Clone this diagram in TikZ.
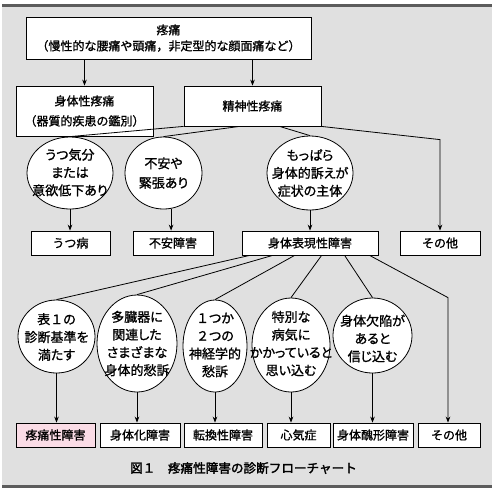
\documentclass[tikz,border=0pt]{standalone}
\usepackage{fontspec}
\newfontfamily\cjk[FakeBold=1.1]{Noto Sans CJK JP}
\newfontfamily\cjkp[FakeBold=1.1,RawFeature={+palt}]{Noto Sans CJK JP}
\newfontfamily\cjkcap[FakeBold=2.2]{Noto Sans CJK JP}
\newcommand{\fwdig}[1]{{\cjk #1}}
\usetikzlibrary{arrows.meta,shapes.geometric,shadows}
\definecolor{bg}{HTML}{E0E0E0}
\definecolor{rule}{HTML}{5C5C5C}
\definecolor{pinkf}{HTML}{FADCE6}
\begin{document}
\begin{tikzpicture}[x=1pt,y=-1pt,
  txt/.style={font=\cjk\fontsize{12}{16}\selectfont, align=center, inner sep=0pt, text=black},
  etxt/.style={font=\cjkp\fontsize{13}{17.8}\selectfont, align=center, inner sep=0pt, text=black},
  box/.style={txt, draw=black, fill=white, line width=0.8pt,
    drop shadow={shadow xshift=1pt, shadow yshift=-1pt, fill=black!75, opacity=1}},
  ell/.style={ellipse, draw=black, fill=white, line width=0.8pt, inner sep=0pt},
  conn/.style={line width=0.8pt, draw=black},
  arr/.style={conn, -{Stealth[length=6pt,width=4.6pt]}}]
\useasboundingbox (0,0) rectangle (500,491);
\fill[white] (0,0) rectangle (500,491);
\fill[bg] (2,5) rectangle (492,487);
\fill[rule] (2,4) rectangle (492,7);
\fill[rule] (2,485) rectangle (492,488);

% top level
\node[box, minimum width=285pt, minimum height=42pt] (t) at (168.5,38)
  {疼痛\\（慢性的な腰痛や頭痛，非定型的な顔面痛など）};
\node[box, minimum width=137pt, minimum height=50pt, font=\cjk\fontsize{12}{20}\selectfont] (b1) at (84.5,111)
  {身体性疼痛\\（器質的疾患の鑑別）};
\node[box, minimum width=137pt, minimum height=40pt] (b2) at (252.5,106) {精神性疼痛};

% row 1 ellipses
\node[ell, minimum width=86pt, minimum height=72pt] (e1) at (70,173) {};
\node[etxt] (e1t) at (70,172.5) {うつ気分\\または\\意欲低下あり};
\node[ell, minimum width=77pt, minimum height=72pt] (e2) at (163.5,173) {};
\node[etxt, font=\cjkp\fontsize{13}{19.5}\selectfont] (e2t) at (163.5,173) {不安や\\緊張あり};
\node[ell, minimum width=86pt, minimum height=74pt] (e3) at (310,173) {};
\node[etxt] (e3t) at (310,173) {もっぱら\\身体的訴えが\\症状の主体};

% row 2 boxes
\node[box, minimum width=79pt, minimum height=24pt] (d1) at (70.5,243) {うつ病};
\node[box, minimum width=80pt, minimum height=24pt] (d2) at (173,243) {不安障害};
\node[box, minimum width=136pt, minimum height=24pt] (d3) at (310,243) {身体表現性障害};
\node[box, minimum width=80pt, minimum height=24pt] (d4) at (440,243) {その他};

% row 3 ellipses
\node[ell, minimum width=77pt, minimum height=73pt] (ea) at (56.5,336.5) {};
\node[etxt] (eat) at (56.5,337) {表\fwdig{１}の\\診断基準を\\満たす};
\node[ell, minimum width=80pt, minimum height=97pt] (eb) at (137,343.5) {};
\node[etxt] (ebt) at (137,343.5) {多臓器に\\関連した\\さまざまな\\身体的愁訴};
\node[ell, minimum width=64pt, minimum height=92pt] (ec) at (215,346) {};
\node[etxt] (ect) at (215,345) {\fwdig{１}つか\\\fwdig{２}つの\\神経学的\\愁訴};
\node[ell, minimum width=78pt, minimum height=94pt] (ed) at (291,345) {};
\node[etxt] (edt) at (291,343.5) {特別な\\病気に\\かかっていると\\思い込む};
\node[ell, minimum width=79pt, minimum height=75pt] (ee) at (372.5,335.5) {};
\node[etxt] (eet) at (372.5,338.5) {身体欠陥が\\あると\\信じ込む};

% row 4 boxes
\node[box, fill=pinkf, minimum width=79pt, minimum height=24pt] (f1) at (55.5,435) {疼痛性障害};
\node[box, minimum width=80pt, minimum height=24pt] (f2) at (140,435) {身体化障害};
\node[box, minimum width=78pt, minimum height=24pt] (f3) at (223,435) {転換性障害};
\node[box, minimum width=63pt, minimum height=24pt] (f4) at (298.5,435) {心気症};
\node[box, minimum width=80pt, minimum height=24pt] (f5) at (373,435) {身体醜形障害};
\node[box, minimum width=62pt, minimum height=24pt] (f6) at (449,435) {その他};

% caption
\node[inner sep=0pt, font=\cjkcap\fontsize{12.6}{14}\selectfont] (cap) at (243.5,468)
  {図１　疼痛性障害の診断フローチャート};

% connectors top
\draw[arr] (b1.north |- t.south) -- (b1.north);
\draw[arr] (b2.north |- t.south) -- (b2.north);

% from 精神性疼痛
\draw[conn] (b2.south west) -- (e1.north);
\draw[conn] ([xshift=56pt]b2.south west) -- (e2.north);
\draw[conn] ([xshift=96pt]b2.south west) -- (e3.north);
\draw[arr] (b2.south east) -- ([yshift=91pt]d4.north) -- (d4.north);

% row1 -> row2
\draw[arr] (e1.south) -- (e1.south |- d1.north);
\draw[arr] (e2.-78) -- (e2.-78 |- d2.north);
\draw[arr] (e3.south) -- (e3.south |- d3.north);

% from 身体表現性障害
\draw[conn] ([xshift=8pt]d3.south west) -- (ea.north);
\draw[conn] ([xshift=31pt]d3.south west) -- (eb.north);
\draw[conn] ([xshift=53pt]d3.south west) -- (ec.north);
\draw[conn] ([xshift=80pt]d3.south west) -- (ed.north);
\draw[conn] ([xshift=103pt]d3.south west) -- (ee.north);
\draw[arr] ([xshift=128pt]d3.south west) -- ([xshift=-1pt,yshift=125pt]f6.north) -- ([xshift=-1pt]f6.north);

% row3 -> row4
\draw[arr] (ea.south) -- (ea.south |- f1.north);
\draw[arr] (eb.south) -- (eb.south |- f2.north);
\draw[arr] (ec.south) -- (ec.south |- f3.north);
\draw[arr] (ed.south) -- (ed.south |- f4.north);
\draw[arr] (ee.south) -- (ee.south |- f5.north);
\end{tikzpicture}
\end{document}
